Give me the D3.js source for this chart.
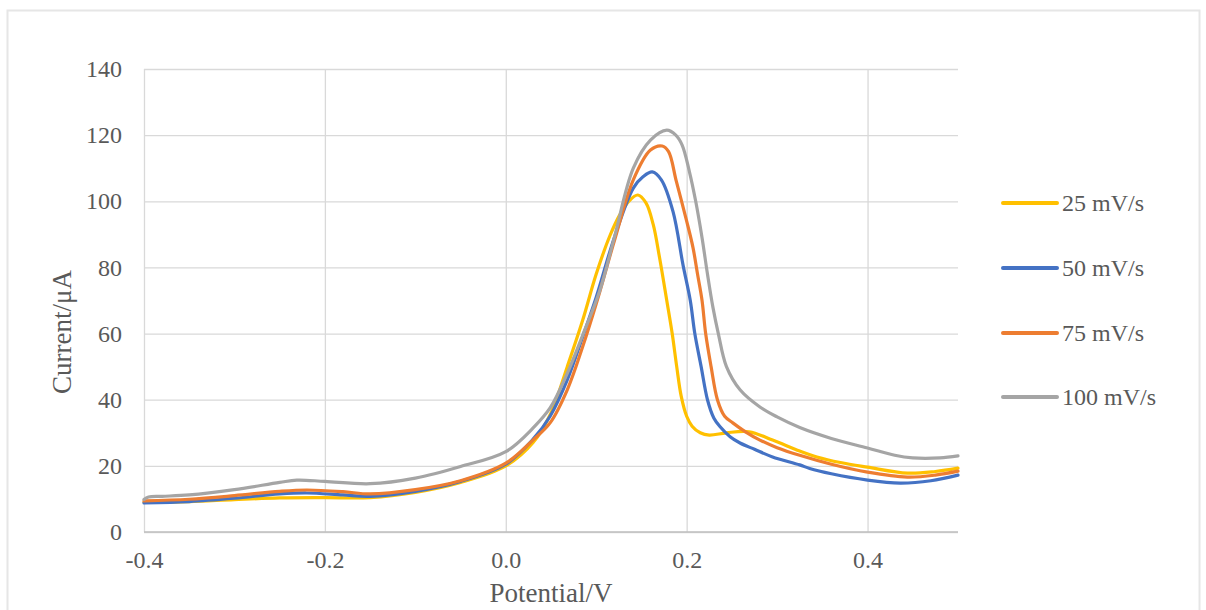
<!DOCTYPE html>
<html>
<head>
<meta charset="utf-8">
<script src="https://cdn.jsdelivr.net/npm/d3@7"></script>
<style>
  html, body { margin: 0; padding: 0; background: #fff; }
  svg { display: block; }
  text { font-family: "Liberation Serif", "Times New Roman", serif; fill: #595959; }
</style>
</head>
<body>
<svg id="chart" width="1206" height="610"></svg>
<script>
// ---- data ----
const seriesNames = ["25 mV/s", "50 mV/s", "75 mV/s", "100 mV/s"];
const seriesColors = ["#FFC000", "#4472C4", "#ED7D31", "#A5A5A5"];

const potential25 = [-0.4,-0.35,-0.3,-0.25,-0.2,-0.15,-0.1,-0.05,0,0.03,0.05,0.068,0.085,0.1,0.115,0.126,0.136,0.146,0.155,0.163,0.17,0.178,0.184,0.189,0.194,0.2,0.206,0.215,0.225,0.244,0.269,0.295,0.325,0.344,0.37,0.4,0.444,0.475,0.5];
const current25   = [9.0,9.2,9.8,10.3,10.4,10.4,12,15,20,27,36,50,64,78,89.5,95.9,100,101.9,99.5,93,83,70,60,50,41,35,32,30,29.3,30,30.3,27.8,24.5,22.7,21,19.6,17.8,18.3,19.3];

const potential50 = [-0.4,-0.35,-0.3,-0.25,-0.22,-0.18,-0.15,-0.1,-0.05,0,0.03,0.049,0.068,0.085,0.1,0.12,0.141,0.152,0.162,0.172,0.185,0.196,0.204,0.209,0.216,0.223,0.23,0.237,0.248,0.259,0.275,0.295,0.325,0.336,0.36,0.4,0.436,0.47,0.5];
const current50   = [8.8,9.2,10.2,11.5,11.8,11.2,10.8,12.3,15.3,20.5,28,35,46,59,71,89,104,107.5,108.9,106.5,96.8,80.7,70,60,50,40,34.5,31.8,28.8,26.9,25,22.7,20.3,19.2,17.6,15.7,14.8,15.5,17.2];

const potential75 = [-0.4,-0.35,-0.3,-0.25,-0.22,-0.18,-0.15,-0.1,-0.05,0,0.03,0.049,0.068,0.085,0.1,0.12,0.141,0.16,0.173,0.18,0.1886,0.2,0.207,0.212,0.217,0.221,0.227,0.234,0.242,0.251,0.265,0.281,0.3,0.325,0.36,0.4,0.444,0.475,0.5];
const current75   = [9.4,9.9,11,12.3,12.7,12.2,11.5,12.8,15.5,20.8,27.8,33,43,56,69,88,106.5,115.5,116.7,115,106,94,86,78,70,60,50,40,35,33,30.3,27.8,25.5,23.2,20.5,18.1,16.6,17.2,18.4];

const potential100 = [-0.4,-0.395,-0.38,-0.35,-0.3,-0.25,-0.231,-0.2,-0.15,-0.1,-0.05,0,0.03,0.049,0.068,0.085,0.104,0.12,0.141,0.16,0.178,0.188,0.195,0.203,0.21,0.217,0.223,0.229,0.235,0.244,0.259,0.281,0.3,0.325,0.36,0.4,0.43,0.45,0.48,0.5];
const current100   = [9.8,10.6,10.8,11.2,12.8,15,15.7,15.3,14.6,16.3,19.8,24.3,31.4,37.5,48,59.5,73,89,110,118.5,121.5,120,117,109,100,89,78,68,60,50,43,37.8,34.8,31.6,28.3,25.4,23.2,22.4,22.4,23];

const xTicks = [-0.4, -0.2, 0.0, 0.2, 0.4];
const yTicks = [0, 20, 40, 60, 80, 100, 120, 140];
const xTitle = "Potential/V";
const yTitle = "Current/\u03BCA";

// ---- drawing ----
const potentials = [potential25, potential50, potential75, potential100];
const currents = [current25, current50, current75, current100];
const series = seriesNames.map((name, i) => ({
  name, color: seriesColors[i],
  values: potentials[i].map((p, j) => ({ x: p, y: currents[i][j] }))
}));

const svg = d3.select("#chart");
const plot = { left: 144, right: 958, top: 69, bottom: 532 };

// outer chart border
svg.append("rect")
  .attr("x", 7.5).attr("y", 10.5).attr("width", 1192).attr("height", 610)
  .attr("fill", "none").attr("stroke", "#E6E6E6").attr("stroke-width", 2);

const x = d3.scaleLinear().domain([-0.4, 0.5]).range([plot.left, plot.right]);
const y = d3.scaleLinear().domain([0, 140]).range([plot.bottom, plot.top]);

// horizontal gridlines
svg.append("g").attr("transform", `translate(${plot.left},0)`)
  .call(d3.axisLeft(y).tickValues(yTicks).tickSize(-(plot.right - plot.left)).tickFormat(""))
  .call(g => g.select(".domain").remove())
  .call(g => g.selectAll("line").attr("stroke", "#D9D9D9").attr("stroke-width", 1.3));

// vertical gridlines
svg.append("g").attr("transform", `translate(0,${plot.bottom})`)
  .call(d3.axisBottom(x).tickValues(xTicks).tickSize(-(plot.bottom - plot.top)).tickFormat(""))
  .call(g => g.select(".domain").remove())
  .call(g => g.selectAll("line").attr("stroke", "#D9D9D9").attr("stroke-width", 1.3));

// bottom axis line
svg.append("line")
  .attr("x1", plot.left).attr("x2", plot.right)
  .attr("y1", y(0)).attr("y2", y(0))
  .attr("stroke", "#BFBFBF").attr("stroke-width", 1.5);

// y tick labels
svg.append("g").attr("transform", `translate(${plot.left},0)`)
  .call(d3.axisLeft(y).tickValues(yTicks).tickSize(0).tickPadding(22).tickFormat(d3.format("d")))
  .call(g => g.select(".domain").remove())
  .call(g => g.selectAll("text")
    .attr("font-family", "Liberation Serif, serif").attr("font-size", 24)
    .attr("fill", "#595959"));

// x tick labels (hyphen-minus as in the reference)
const fmtX = d => d3.format(".1f")(d).replace("\u2212", "-");
svg.append("g").attr("transform", `translate(0,${plot.bottom})`)
  .call(d3.axisBottom(x).tickValues(xTicks).tickSize(0).tickPadding(19).tickFormat(fmtX))
  .call(g => g.select(".domain").remove())
  .call(g => g.selectAll("text")
    .attr("font-family", "Liberation Serif, serif").attr("font-size", 24)
    .attr("fill", "#595959"));

// lines
const line = d3.line().x(d => x(d.x)).y(d => y(d.y)).curve(d3.curveCatmullRom.alpha(0.5));
svg.append("g").selectAll("path").data(series).join("path")
  .attr("d", d => line(d.values))
  .attr("fill", "none")
  .attr("stroke", d => d.color)
  .attr("stroke-width", 3.2)
  .attr("stroke-linejoin", "round")
  .attr("stroke-linecap", "round");

// axis titles
svg.append("text")
  .attr("x", (plot.left + plot.right) / 2).attr("y", 602)
  .attr("text-anchor", "middle")
  .attr("font-size", 27)
  .text(xTitle);

svg.append("text")
  .attr("transform", "translate(71,332) rotate(-90)")
  .attr("text-anchor", "middle")
  .attr("font-size", 27)
  .text(yTitle);

// legend
const legendY = [203, 268, 333, 397];
const legend = svg.append("g");
series.forEach((s, i) => {
  legend.append("line")
    .attr("x1", 1003).attr("x2", 1057)
    .attr("y1", legendY[i]).attr("y2", legendY[i])
    .attr("stroke", s.color).attr("stroke-width", 4).attr("stroke-linecap", "round");
  legend.append("text")
    .attr("x", 1062).attr("y", legendY[i])
    .attr("dy", "0.35em")
    .attr("font-size", 24)
    .text(s.name);
});
</script>
</body>
</html>
